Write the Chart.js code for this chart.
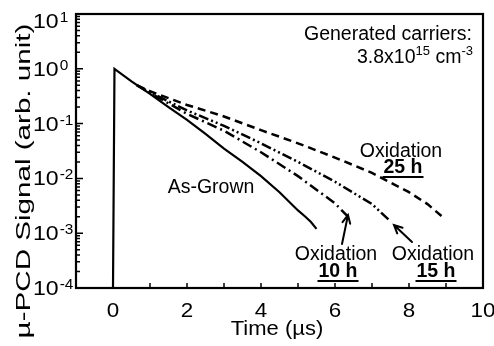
<!DOCTYPE html>
<html>
<head>
<meta charset="utf-8">
<script src="https://cdn.jsdelivr.net/npm/chart.js@4.4.0/dist/chart.umd.min.js"></script>
<style>
  html, body { margin: 0; padding: 0; background: #fff; }
  #wrap { width: 494px; height: 346px; }
</style>
</head>
<body>
<div id="wrap"><canvas id="pcdChart"></canvas></div>
<script>
// time (µs) and normalised signal for each sample
const tAsGrown = [0, 0.04, 0.5, 1, 1.5, 2, 2.5, 3, 3.5, 4, 4.5, 5, 5.2, 5.35, 5.5];
const sAsGrown = [0.0001, 1.0, 0.59, 0.35, 0.20, 0.117, 0.065, 0.035, 0.020, 0.011, 0.0056, 0.0026, 0.0020, 0.0016, 0.0012];

const t10h = [0.65, 1, 2, 3, 4, 5, 6, 6.35];
const s10h = [0.5, 0.363, 0.151, 0.074, 0.030, 0.011, 0.0035, 0.0020];

const t15h = [0.65, 1, 2, 3, 4, 5, 6, 7, 7.46];
const s15h = [0.5, 0.372, 0.174, 0.091, 0.0437, 0.020, 0.0087, 0.0034, 0.00174];

const t25h = [0.65, 1, 2, 3, 4, 5, 6, 7, 8, 8.5, 8.9];
const s25h = [0.5, 0.389, 0.219, 0.135, 0.0759, 0.0437, 0.024, 0.0126, 0.0056, 0.0034, 0.0020];

const xTickLabels = [0, 2, 4, 6, 8, 10];
const xMinorTicks = [0, 1, 2, 3, 4, 5, 6, 7, 8, 9];
const yDecades = [1, 0, -1, -2, -3, -4];

const FONT = '"Liberation Sans", Arial, sans-serif';

function pts(ts, ss) {
  return ts.map((t, i) => ({ x: t, y: ss[i] }));
}

function txt(ctx, s, x, y, size, o) {
  o = o || {};
  ctx.save();
  ctx.font = (o.bold ? 'bold ' : '') + size + 'px ' + FONT;
  ctx.fillStyle = '#000';
  ctx.textBaseline = 'alphabetic';
  ctx.textAlign = o.align || 'left';
  ctx.translate(x, y);
  if (o.rot) ctx.rotate(o.rot);
  ctx.scale(o.sx || 1, 1);
  ctx.fillText(s, 0, 0);
  const w = ctx.measureText(s).width * (o.sx || 1);
  ctx.restore();
  return w;
}

function underlined(ctx, s, cx, y, size) {
  ctx.save();
  ctx.font = 'bold ' + size + 'px ' + FONT;
  const w = ctx.measureText(s).width;
  ctx.restore();
  txt(ctx, s, cx - w / 2, y, size, { bold: true });
  ctx.save();
  ctx.strokeStyle = '#000';
  ctx.lineWidth = 2;
  ctx.beginPath();
  ctx.moveTo(cx - w / 2 - 1, y + 4);
  ctx.lineTo(cx + w / 2 + 1, y + 4);
  ctx.stroke();
  ctx.restore();
}

// arrow with open V head
function arrow(ctx, x1, y1, x2, y2) {
  const a = Math.atan2(y2 - y1, x2 - x1);
  ctx.save();
  ctx.strokeStyle = '#000';
  ctx.lineWidth = 2;
  ctx.lineCap = 'round';
  ctx.beginPath();
  ctx.moveTo(x1, y1);
  ctx.lineTo(x2, y2);
  ctx.moveTo(x2 - 9 * Math.cos(a - 0.45), y2 - 9 * Math.sin(a - 0.45));
  ctx.lineTo(x2, y2);
  ctx.lineTo(x2 - 9 * Math.cos(a + 0.45), y2 - 9 * Math.sin(a + 0.45));
  ctx.stroke();
  ctx.restore();
}

const frame = {
  id: 'frame',
  afterDraw(chart) {
    const ctx = chart.ctx;
    const a = chart.chartArea;
    const xs = chart.scales.x, ys = chart.scales.y;
    ctx.save();
    ctx.strokeStyle = '#000';
    ctx.lineWidth = 2.2;
    ctx.strokeRect(a.left, a.top, a.right - a.left, a.bottom - a.top);

    // inward ticks
    ctx.lineWidth = 1.5;
    ctx.beginPath();
    xMinorTicks.forEach(v => {
      const px = xs.getPixelForValue(v);
      ctx.moveTo(px, a.bottom);
      ctx.lineTo(px, a.bottom - 5);
    });
    yDecades.forEach(d => {
      const py = ys.getPixelForValue(Math.pow(10, d));
      ctx.moveTo(a.left, py);
      ctx.lineTo(a.left + 7, py);
      if (d < 1) {
        for (let m = 2; m <= 9; m++) {
          const pm = ys.getPixelForValue(m * Math.pow(10, d));
          ctx.moveTo(a.left, pm);
          ctx.lineTo(a.left + 4, pm);
        }
      }
    });
    ctx.stroke();
    ctx.restore();

    // x tick labels
    xTickLabels.forEach(v => {
      txt(ctx, String(v), xs.getPixelForValue(v), 317, 20, { align: 'center', sx: 1.12 });
    });
    // y tick labels 10^n
    yDecades.forEach(d => {
      let py = ys.getPixelForValue(Math.pow(10, d));
      if (d === 1) py += 7;
      const w = txt(ctx, '10', 33, py + 7, 21, { sx: 1.1 });
      txt(ctx, String(d), 33 + w + 1, py + 1, 14, { sx: 1.1 });
    });

    // axis titles
    txt(ctx, 'Time (\u00b5s)', 277, 335, 20, { align: 'center', sx: 1.1 });
    txt(ctx, '\u00b5-PCD Signal (arb. unit)', 30, 181, 20, { align: 'center', rot: -Math.PI / 2, sx: 1.48 });

    // annotations
    txt(ctx, 'Generated carriers:', 472, 40, 19.5, { align: 'right' });
    let x = 357;
    x += txt(ctx, '3.8x10', x, 63, 19.5);
    x += txt(ctx, '15', x, 55, 13);
    x += txt(ctx, ' cm', x, 63, 19.5);
    txt(ctx, '-3', x, 55, 13);

    txt(ctx, 'As-Grown', 211, 193, 19.5, { align: 'center' });

    txt(ctx, 'Oxidation', 401, 157, 19.5, { align: 'center' });
    underlined(ctx, '25 h', 403, 173, 19.5);

    txt(ctx, 'Oxidation', 336, 260, 19.5, { align: 'center' });
    underlined(ctx, '10 h', 338, 277, 19.5);
    arrow(ctx, 342, 244, 348, 215);

    txt(ctx, 'Oxidation', 433, 260, 19.5, { align: 'center' });
    underlined(ctx, '15 h', 436, 277, 19.5);
    arrow(ctx, 412, 242, 394, 225);
  }
};

const ctx = document.getElementById('pcdChart');

const data = {
  datasets: [
    { label: 'As-Grown', data: pts(tAsGrown, sAsGrown), borderColor: '#000', borderWidth: 2.2, borderDash: [] },
    { label: 'Oxidation 10 h', data: pts(t10h, s10h), borderColor: '#000', borderWidth: 2.5, borderDash: [10, 4, 2, 4] },
    { label: 'Oxidation 15 h', data: pts(t15h, s15h), borderColor: '#000', borderWidth: 2.5, borderDash: [10, 3, 2, 3, 2, 3] },
    { label: 'Oxidation 25 h', data: pts(t25h, s25h), borderColor: '#000', borderWidth: 2.5, borderDash: [8, 5] }
  ]
};

const options = {
  responsive: true,
  maintainAspectRatio: false,
  animation: false,
  layout: { padding: { left: 76, right: 11, top: 14, bottom: 58 } },
  elements: { point: { radius: 0 }, line: { tension: 0, fill: false } },
  scales: {
    x: { type: 'linear', min: -1, max: 10, display: false },
    y: { type: 'logarithmic', min: 0.0001, max: 10, display: false }
  },
  plugins: {
    legend: { display: false },
    tooltip: { enabled: false }
  }
};

new Chart(ctx, { type: 'line', data: data, options: options, plugins: [frame] });
</script>
</body>
</html>
